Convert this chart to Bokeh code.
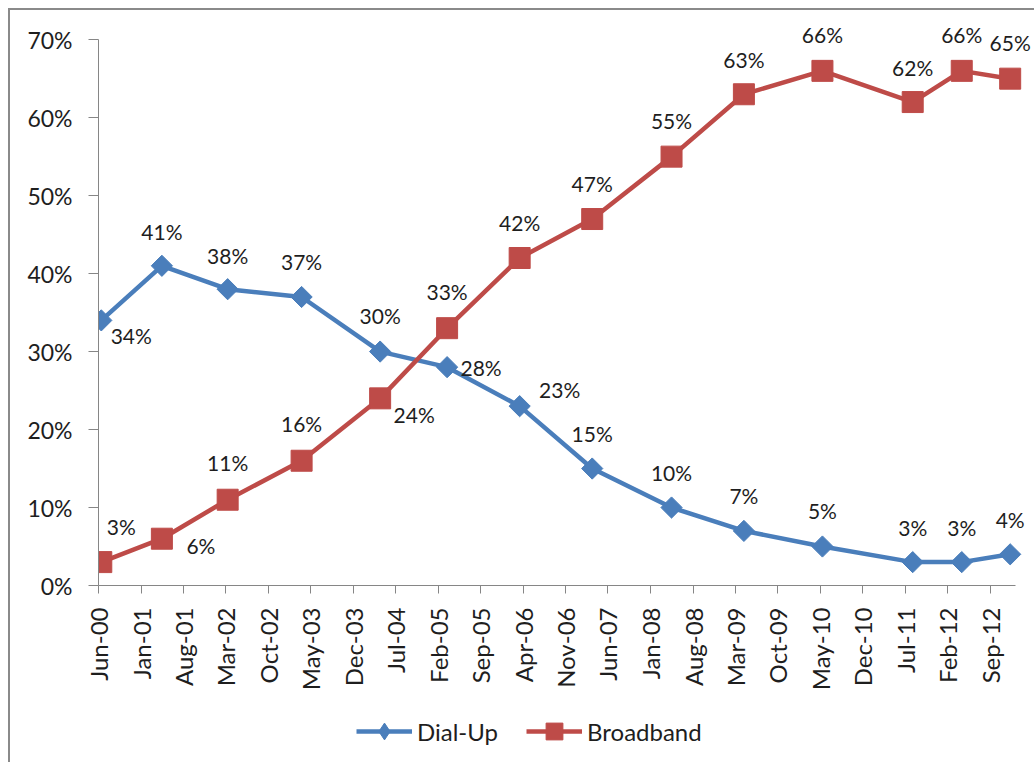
import pandas as pd
from math import pi
from bokeh.plotting import figure
from bokeh.layouts import column
from bokeh.models import (ColumnDataSource, FixedTicker, DatetimeTickFormatter, PrintfTickFormatter,
                          Legend, LegendItem, Range1d, LabelSet)
from bokeh.core.properties import value
from bokeh.embed import file_html
from bokeh.resources import INLINE

# ---------------- data ----------------
survey_dates = ["2000-06-15", "2001-04-15", "2002-03-11", "2003-03-17", "2004-04-14", "2005-03-16",
                "2006-03-15", "2007-03-14", "2008-04-15", "2009-04-13", "2010-05-12", "2011-08-08",
                "2012-04-10", "2012-12-09"]
dial_up = [34, 41, 38, 37, 30, 28, 23, 15, 10, 7, 5, 3, 3, 4]
broadband = [3, 6, 11, 16, 24, 33, 42, 47, 55, 63, 66, 62, 66, 65]
tick_labels = ["Jun-00", "Jan-01", "Aug-01", "Mar-02", "Oct-02", "May-03", "Dec-03", "Jul-04",
               "Feb-05", "Sep-05", "Apr-06", "Nov-06", "Jun-07", "Jan-08", "Aug-08", "Mar-09",
               "Oct-09", "May-10", "Dec-10", "Jul-11", "Feb-12", "Sep-12"]
y_ticks = [0, 10, 20, 30, 40, 50, 60, 70]
series_names = ["Dial-Up", "Broadband"]

# ---------------- styles ----------------
BLUE = "#4a7ebb"
RED = "#be4b48"
AXIS = "#868686"
TEXT = "#1e1e1e"
FONT = "Lato"

dial_dx = [30, 0, 0, 0, 0, 34, 40, 0, 0, 0, 0, 0, 0, 0]
dial_dy = [-15, 34, 34, 35, 36, 0, 17, 35, 35, 35, 36, 35, 35, 35]
bb_dx = [20, 39, 0, 0, 34, 0, 0, 0, 0, 0, 0, 0, 0, 0]
bb_dy = [36, -7, 37, 37, -16, 37, 36, 36, 36, 35, 36, 35, 36, 36]

dates = pd.to_datetime(survey_dates)
tick_dates = pd.to_datetime(tick_labels, format="%b-%y")
tick_ms = [int(t.value // 10**6) for t in tick_dates]


def ms(s):
    return int(pd.Timestamp(s).value // 10**6)


axis_start = ms("2000-06-01")
axis_end = ms("2013-01-04")

dial_src = ColumnDataSource(dict(x=dates, y=dial_up, label=[f"{v}%" for v in dial_up], dx=dial_dx, dy=dial_dy))
bb_src = ColumnDataSource(dict(x=dates, y=broadband, label=[f"{v}%" for v in broadband], dx=bb_dx, dy=bb_dy))

p = figure(width=1024, height=690, x_axis_type="datetime",
           x_range=Range1d(axis_start, ms("2013-04-10")), y_range=Range1d(0, 73.1),
           output_backend="svg", toolbar_location=None,
           min_border_left=88, min_border_top=5, min_border_right=0, min_border_bottom=115)
p.outline_line_color = None
p.xgrid.visible = False
p.ygrid.visible = False
p.background_fill_color = "white"
p.border_fill_color = "white"

# axes
xa = p.xaxis[0]
xa.ticker = FixedTicker(ticks=tick_ms, minor_ticks=[])
fmt = "%b-%y"
xa.formatter = DatetimeTickFormatter(microseconds=fmt, milliseconds=fmt, seconds=fmt, minsec=fmt,
                                     minutes=fmt, hourmin=fmt, hours=fmt, days=fmt, months=fmt, years=fmt)
xa.major_label_orientation = pi / 2
xa.bounds = (axis_start, axis_end)
xa.axis_line_color = AXIS
xa.major_tick_line_color = AXIS
xa.major_tick_out = 8
xa.major_tick_in = 0
xa.minor_tick_line_color = None
xa.major_label_standoff = 14
xa.major_label_text_font = FONT
xa.major_label_text_font_size = "24px"
xa.major_label_text_color = TEXT

ya = p.yaxis[0]
ya.ticker = FixedTicker(ticks=y_ticks, minor_ticks=[])
ya.formatter = PrintfTickFormatter(format="%d%%")
ya.bounds = (0, 70)
ya.axis_line_color = AXIS
ya.major_tick_line_color = AXIS
ya.major_tick_out = 10
ya.major_tick_in = 0
ya.minor_tick_line_color = None
ya.major_label_standoff = 16
ya.major_label_text_font = FONT
ya.major_label_text_font_size = "23px"
ya.major_label_text_color = TEXT

# series
p.line("x", "y", source=dial_src, line_color=BLUE, line_width=4.5)
p.scatter("x", "y", source=dial_src, marker="square", angle=pi / 4, size=15,
          fill_color=BLUE, line_color=BLUE)
p.line("x", "y", source=bb_src, line_color=RED, line_width=4.5)
p.scatter("x", "y", source=bb_src, marker="square", size=21, fill_color=RED, line_color=RED)

for src in (dial_src, bb_src):
    p.add_layout(LabelSet(x="x", y="y", text="label", source=src, x_offset="dx", y_offset="dy",
                          text_align="center", text_baseline="middle", text_font=value(FONT),
                          text_font_size="21px", text_color=TEXT))

# ---------------- legend strip ----------------
# the same sources are reused here; their points fall far outside this strip's
# ranges, so only the legend swatches are visible
q = figure(width=1024, height=62, x_range=Range1d(0, 1), y_range=Range1d(0, 1),
           x_axis_location=None, y_axis_location=None, output_backend="svg", toolbar_location=None,
           min_border=0)
q.outline_line_color = None
q.xgrid.visible = False
q.ygrid.visible = False
ld = q.line("x", "y", source=dial_src, line_color=BLUE, line_width=4.5)
md = q.scatter("x", "y", source=dial_src, marker="diamond", fill_color=BLUE, line_color=BLUE)
lb = q.line("x", "y", source=bb_src, line_color=RED, line_width=4.5)
mb = q.scatter("x", "y", source=bb_src, marker="square", fill_color=RED, line_color=RED)

legend = Legend(items=[LegendItem(label=series_names[0], renderers=[ld, md]),
                       LegendItem(label=series_names[1], renderers=[lb, mb])],
                orientation="horizontal", location=(258, 10),
                glyph_width=56, glyph_height=42, label_height=42, label_standoff=5, spacing=28,
                padding=0, margin=0, border_line_color=None, background_fill_alpha=0,
                label_text_font=FONT, label_text_font_size="24px", label_text_color=TEXT)
q.add_layout(legend, "center")

page = column(p, q, spacing=0)
page.margin = (8, 0, 0, 8)
page.styles = {"border-left": "2px solid #8a8a8a", "border-top": "2px solid #8a8a8a"}

open("out.html", "w").write(file_html(page, INLINE))
